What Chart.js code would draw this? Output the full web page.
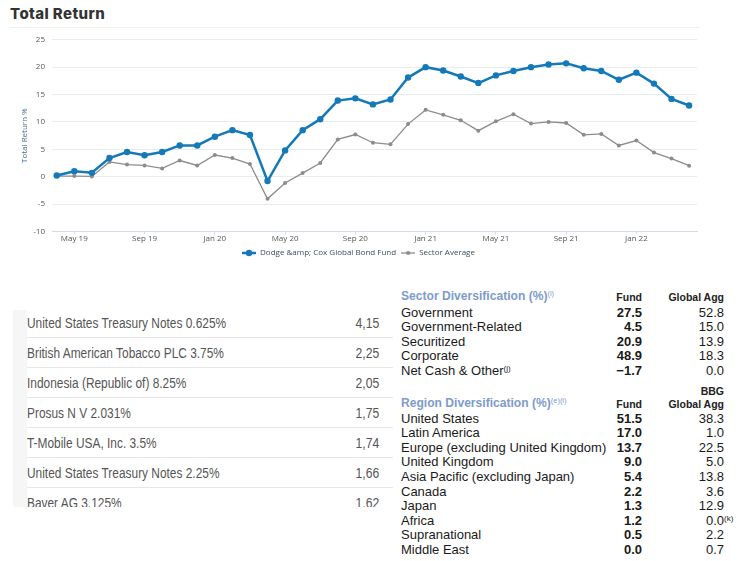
<!DOCTYPE html>
<html><head><meta charset="utf-8">
<script src="https://cdn.jsdelivr.net/npm/chart.js@4/dist/chart.umd.min.js"></script>
<style>
html,body{margin:0;padding:0;background:#fff;width:742px;height:561px;overflow:hidden;}
body{position:relative;font-family:"Liberation Sans",Arial,sans-serif;}
#title{position:absolute;left:10px;top:4px;font:800 15px Inter,sans-serif;color:#333;letter-spacing:0.4px;}
#rule{position:absolute;left:10px;top:27px;width:690px;height:1px;background:#f0f0f0;}
#chartWrap{position:absolute;left:0;top:28px;width:712px;height:242px;}
#holdPanel{position:absolute;left:13px;top:310px;width:14px;height:197px;background:#f6f6f6;}
#holdings{position:absolute;left:27px;top:308px;width:366px;height:199px;overflow:hidden;}
.hrow{position:absolute;left:0;width:366px;height:30px;font:14px "Liberation Sans",Arial,sans-serif;color:#555;}
.hrow .n{position:absolute;left:0;top:7px;white-space:nowrap;transform:scaleX(0.85);transform-origin:0 0;}
.hrow .v{position:absolute;right:14px;top:7px;transform:scaleX(0.87);transform-origin:100% 0;}
.hsep{position:absolute;left:0;width:366px;height:1px;background:#e6e6e6;}
.t{position:absolute;white-space:nowrap;color:#1a1a1a;font-size:13px;line-height:15px;}
.hdr{font-weight:700;font-size:13px;color:#7d9bcb;transform:scaleX(0.93);transform-origin:0 0;}
.colh{font-weight:700;font-size:10.5px;color:#222;}
.b{font-weight:700;}
sup{font-size:8px;vertical-align:top;position:relative;top:-2px;font-weight:400;}
</style></head>
<body>
<div id="title">Total Return</div>
<div id="rule"></div>
<div id="chartWrap"><canvas id="c"></canvas></div>
<div id="holdPanel"></div>
<div id="holdings"></div>
<div id="tables"></div>
<script>
// ---- chart data ----
const months = ['Apr 19','May 19','Jun 19','Jul 19','Aug 19','Sep 19','Oct 19','Nov 19','Dec 19',
  'Jan 20','Feb 20','Mar 20','Apr 20','May 20','Jun 20','Jul 20','Aug 20','Sep 20','Oct 20','Nov 20','Dec 20',
  'Jan 21','Feb 21','Mar 21','Apr 21','May 21','Jun 21','Jul 21','Aug 21','Sep 21','Oct 21','Nov 21','Dec 21',
  'Jan 22','Feb 22','Mar 22','Apr 22'];
const fundReturn = [0.2,1.0,0.7,3.4,4.5,3.9,4.5,5.7,5.7,7.3,8.5,7.6,-0.8,4.8,8.5,10.5,13.9,14.3,13.2,14.1,18.1,
  20.0,19.4,18.3,17.1,18.5,19.3,20.0,20.5,20.7,19.8,19.3,17.7,19.0,17.0,14.2,13.0];
const sectorAverage = [0.1,0.1,0.05,2.7,2.2,2.05,1.5,2.95,2.05,3.95,3.4,2.3,-4.05,-1.15,0.65,2.5,6.8,7.7,6.2,5.9,9.6,
  12.2,11.3,10.3,8.4,10.1,11.4,9.7,10.0,9.8,7.65,7.8,5.7,6.6,4.4,3.3,2.0];
const seriesNames = ['Dodge &amp; Cox Global Bond Fund','Sector Average'];
const xTickMonths = ['May 19','Sep 19','Jan 20','May 20','Sep 20','Jan 21','May 21','Sep 21','Jan 22'];
const yTickValues = [-10,-5,0,5,10,15,20,25];

// ---- table data ----
const holdingNames = ['United States Treasury Notes 0.625%','British American Tobacco PLC 3.75%','Indonesia (Republic of) 8.25%',
  'Prosus N V 2.031%','T-Mobile USA, Inc. 3.5%','United States Treasury Notes 2.25%','Baver AG 3.125%'];
const holdingWeights = ['4,15','2,25','2,05','1,75','1,74','1,66','1.62'];
const sectorNames = ['Government','Government-Related','Securitized','Corporate','Net Cash & Other'];
const sectorFund = ['27.5','4.5','20.9','48.9','\u22121.7'];
const sectorAgg = ['52.8','15.0','13.9','18.3','0.0'];
const regionNames = ['United States','Latin America','Europe (excluding United Kingdom)','United Kingdom',
  'Asia Pacific (excluding Japan)','Canada','Japan','Africa','Supranational','Middle East'];
const regionFund = ['51.5','17.0','13.7','9.0','5.4','2.2','1.3','1.2','0.5','0.0'];
const regionAgg = ['38.3','1.0','22.5','5.0','13.8','3.6','12.9','0.0','2.2','0.7'];

// ---- holdings table ----
const hold = document.getElementById('holdings');
holdingNames.forEach((n,i)=>{
  const r=document.createElement('div'); r.className='hrow'; r.style.top=(i*30)+'px';
  r.innerHTML='<span class="n"></span><span class="v"></span>';
  r.querySelector('.n').textContent=n; r.querySelector('.v').textContent=holdingWeights[i];
  hold.appendChild(r);
  if(i<holdingNames.length-1){const s=document.createElement('div');s.className='hsep';s.style.top=(i*30+29)+'px';hold.appendChild(s);}
});

// ---- diversification tables ----
const tb=document.getElementById('tables');
function put(html,left,top,cls,right){
  const d=document.createElement('div'); d.className='t '+(cls||''); d.innerHTML=html;
  d.style.top=top+'px';
  if(right){d.style.right=(742-left)+'px';} else d.style.left=left+'px';
  tb.appendChild(d); return d;
}
const L=401, FR=642, GR=724, RH=14.6;
put('Sector Diversification (%)<sup>(i)</sup>',L,288,'hdr');
put('Fund',FR,290,'colh',true);
put('Global Agg',GR,290,'colh',true);
sectorNames.forEach((n,i)=>{
  const y=304.5+i*RH;
  put(n.replace('&','&amp;')+(i===4?'<sup>(j)</sup>':''),L,y,'');
  put(sectorFund[i],FR,y,'b',true);
  put(sectorAgg[i],GR,y,'',true);
});
put('BBG',GR,384,'colh',true);
put('Region Diversification (%)<sup>(e)(i)</sup>',L,395,'hdr');
put('Fund',FR,397,'colh',true);
put('Global Agg',GR,397,'colh',true);
regionNames.forEach((n,i)=>{
  const y=410.5+i*RH;
  put(n,L,y,'');
  put(regionFund[i],FR,y,'b',true);
  const d=put(regionAgg[i],GR,y,'',true);
  if(n==='Africa'){const s=document.createElement('sup');s.textContent='(k)';s.style.position='absolute';s.style.left='100%';s.style.top='-2px';d.appendChild(s);}
});

// ---- legend icons ----
function icon(color,lw,r){
  const c=document.createElement('canvas'); c.width=14; c.height=8;
  const g=c.getContext('2d'); g.strokeStyle=color; g.lineWidth=lw;
  g.beginPath(); g.moveTo(0,4); g.lineTo(14,4); g.stroke();
  g.fillStyle=color; g.beginPath(); g.arc(7,4,r,0,Math.PI*2); g.fill();
  return c;
}
const BLUE='#1479b8', GREY='#8c8c8c';
const icons=[icon(BLUE,2.5,3.2),icon(GREY,1.3,2)];
const tickIdx = xTickMonths.map(m=>months.indexOf(m));
const FONT='"Open Sans", sans-serif';

new Chart(document.getElementById('c'),{
  type:'line',
  data:{datasets:[
    {label:seriesNames[0],data:fundReturn.map((v,i)=>({x:i,y:v})),borderColor:BLUE,backgroundColor:BLUE,
     borderWidth:2.5,pointRadius:3.2,pointBackgroundColor:BLUE,pointBorderWidth:0,tension:0},
    {label:seriesNames[1],data:sectorAverage.map((v,i)=>({x:i,y:v})),borderColor:GREY,backgroundColor:GREY,
     borderWidth:1.3,pointRadius:2,pointBackgroundColor:GREY,pointBorderWidth:0,tension:0}
  ]},
  options:{
    responsive:true,maintainAspectRatio:false,animation:false,
    layout:{padding:{left:20,right:15,top:5,bottom:3}},
    plugins:{
      tooltip:{enabled:false},
      legend:{position:'bottom',labels:{usePointStyle:true,pointStyleWidth:14,boxHeight:8,padding:5,
        color:'#3d4c63',font:{family:FONT,size:8},
        generateLabels(chart){const it=Chart.defaults.plugins.legend.labels.generateLabels(chart);it.forEach((x,i)=>x.pointStyle=icons[i]);return it;}}}
    },
    scales:{
      x:{type:'linear',min:-0.27,max:36.45,
        afterBuildTicks(s){s.ticks=tickIdx.map(v=>({value:v}));},
        ticks:{autoSkip:false,maxRotation:0,color:'#555',font:{family:FONT,size:8},padding:0,
          callback:(v)=>months[v]},
        grid:{drawOnChartArea:false,drawTicks:true,tickLength:3,color:'#d3dde7'},
        border:{display:true,color:'#d3dde7'}},
      y:{min:-10,max:25,
        afterBuildTicks(s){s.ticks=yTickValues.map(v=>({value:v}));},
        afterFit(s){s.width=32;},
        ticks:{color:'#555',font:{family:FONT,size:8},padding:7},
        grid:{color:'#e7ecf1',drawTicks:false},
        border:{display:false},
        title:{display:true,text:'Total Return %',color:'#4a6c9b',font:{family:FONT,size:8},padding:{top:0,bottom:0}}}
    }
  }
});
</script>
</body></html>
